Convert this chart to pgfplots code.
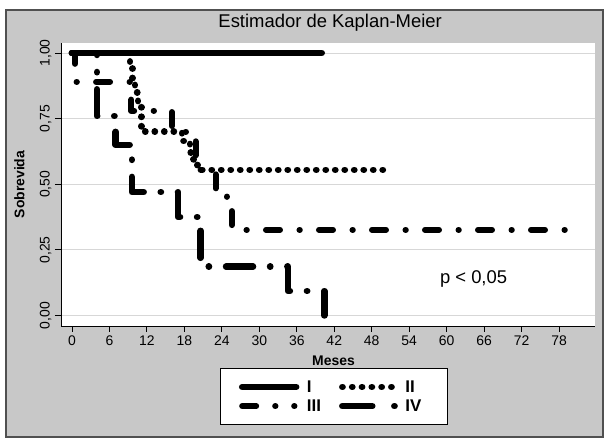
\documentclass[border=0pt]{standalone}
\usepackage{pgfplots}
\pgfplotsset{compat=1.18}
\usepackage{fontspec}
\setmainfont{Liberation Sans}
\definecolor{bggray}{RGB}{200,200,200}
\definecolor{framegray}{RGB}{80,80,80}
\definecolor{gridgray}{RGB}{215,215,215}
\begin{document}
\begin{tikzpicture}[x=1bp,y=1bp]
\path[use as bounding box] (-61,-113) rectangle (547,326);
\fill[white] (-61,-113) rectangle (547,326);
\filldraw[fill=bggray, draw=framegray, line width=1.5bp] (-55,-111) rectangle (542,316);
\begin{axis}[
  at={(0,0)}, anchor=south west,
  scale only axis, width=534bp, height=283bp,
  xmin=-1.75, xmax=83.75, ymin=-0.04, ymax=1.038,
  axis x line*=bottom, axis y line*=left,
  axis line style={-, black, line width=0.8bp},
  axis background/.style={fill=white},
  xtick={0,6,...,78},
  ytick={0,0.25,0.5,0.75,1},
  ymajorgrids, grid style={gridgray, line width=0.8bp},
  tick align=outside, major tick length=6bp, tick style={black, line width=0.8bp},
  /pgf/number format/assume math mode=true,
  ticklabel style={font=\fontsize{14}{14}\selectfont},
  yticklabel style={rotate=90, anchor=south, /pgf/number format/.cd, fixed, fixed zerofill, precision=2, use comma},
  xlabel={Meses}, ylabel={Sobrevida},
  label style={font=\bfseries\fontsize{14}{14}\selectfont},
  xlabel style={at={(axis description cs:0.5103,-0.1413)}, anchor=base},
  ylabel style={at={(axis description cs:-0.0777,0.5)}, anchor=center},
  title={Estimador de Kaplan-Meier},
  title style={font=\fontsize{18.5}{18.5}\selectfont, at={(axis description cs:0.504,1.0353)}, anchor=base, inner sep=0pt},
  clip=false,
  legend columns=2,
  legend cell align=left,
  legend style={at={(axis description cs:0.2978,-0.1484)}, anchor=north west, draw=black, line width=0.8bp, fill=white,
    inner xsep=18.5bp, inner ysep=11bp, row sep=4bp,
    font=\bfseries\fontsize{17}{17}\selectfont,
    nodes={inner xsep=7.5bp, inner ysep=1bp},
    /tikz/every even column/.append style={column sep=10.5bp}},
]
\addplot[const plot, black, line width=6.5bp, line cap=round,
  legend image code/.code={\path[draw=none, fill=none] (0bp,-4bp) rectangle (60bp,4bp);
    \draw[solid, black, line width=6.5bp, line cap=round] (3bp,0bp) -- (57bp,0bp);}]
  coordinates {(0,1) (40,1)};
\addlegendentry{I}
\addplot[const plot, black, line width=6.5bp, line cap=round, line join=round, dash pattern=on 0.3bp off 9.2bp,
  legend image code/.code={\path[draw=none, fill=none] (0bp,-4bp) rectangle (58bp,4bp);
    \draw[black, line width=6.5bp, line cap=round, dash pattern=on 0.3bp off 9.5bp] (3bp,0bp) -- (52.3bp,0bp);}]
  coordinates {(0,1) (9.3,0.95) (9.7,0.90) (10.1,0.85) (10.6,0.80) (11.1,0.70) (17.6,0.665) (18.9,0.62) (19.5,0.58) (20.1,0.555) (50,0.555)};
\addlegendentry{II}
\addplot[const plot, black, line width=6bp, line cap=round, line join=round, dash pattern=on 14bp off 19.5bp on 0.3bp off 19.2bp,
  legend image code/.code={\path[draw=none, fill=none] (0bp,-4bp) rectangle (60bp,4bp);
    \draw[solid, black, line width=6bp, line cap=round] (3bp,0bp) -- (17bp,0bp);
    \draw[solid, black, line width=6bp, line cap=round] (36bp,0bp) -- (36.3bp,0bp);
    \draw[solid, black, line width=6bp, line cap=round] (55bp,0bp) -- (55.3bp,0bp);}]
  coordinates {(0,1) (0.5,0.89) (9.5,0.78) (16,0.70) (19.8,0.555) (23,0.467) (24.8,0.44) (25.6,0.326) (80,0.326)};
\addlegendentry{III}
\addplot[const plot, black, line width=6.5bp, line cap=round, line join=round, dash pattern=on 27bp off 17bp on 0.3bp off 17bp,
  legend image code/.code={\path[draw=none, fill=none] (0bp,-4bp) rectangle (58bp,4bp);
    \draw[solid, black, line width=6.5bp, line cap=round] (3bp,0bp) -- (33bp,0bp);
    \draw[solid, black, line width=6.5bp, line cap=round] (55bp,0bp) -- (55.3bp,0bp);}]
  coordinates {(0,1) (4,0.76) (7,0.65) (9.6,0.47) (17,0.375) (20.6,0.186) (34.6,0.093) (40.4,0.0)};
\addlegendentry{IV}
\node[anchor=base west, font=\fontsize{18.5}{18.5}\selectfont, inner sep=0pt] at (axis cs:58.9,0.122) {p < 0,05};
\end{axis}
\end{tikzpicture}
\end{document}
